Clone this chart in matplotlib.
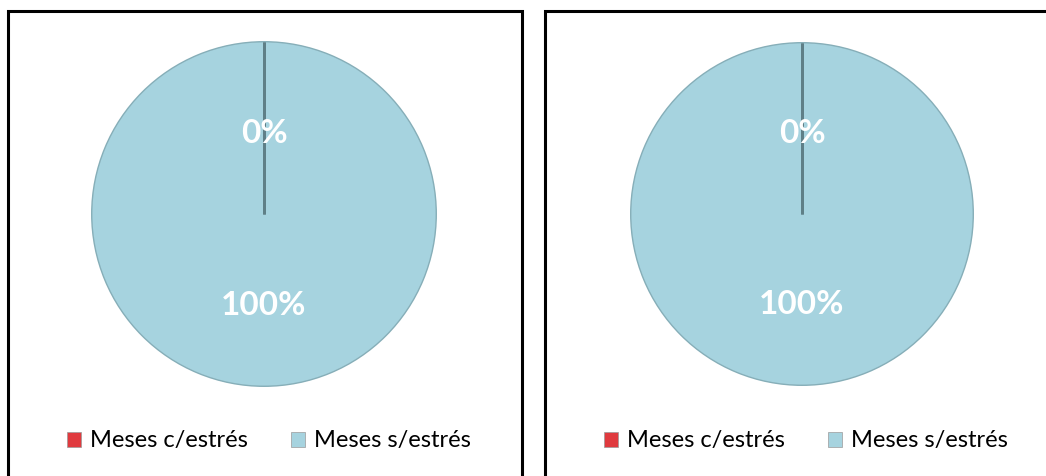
import numpy as np
import matplotlib.pyplot as plt
from matplotlib.patches import Rectangle, Patch

# data
categories = ["Meses c/estrés", "Meses s/estrés"]
left_values = [0, 100]
right_values = [0, 100]
colors = ["#e03a3e", "#a6d3df"]

W, H = 1046, 476
fig = plt.figure(figsize=(W / 100, H / 100), dpi=100)
fig.patch.set_facecolor("white")


def fx(px):
    return px / W


def fy(py):
    return 1 - py / H


# panel frames (right and bottom edges run off the picture)
fig.patches.append(Rectangle((fx(8), -0.1), fx(522 - 8), fy(11) + 0.1,
                             transform=fig.transFigure, fill=False,
                             edgecolor="black", linewidth=2.2))
fig.patches.append(Rectangle((fx(545), -0.1), 0.6, fy(11) + 0.1,
                             transform=fig.transFigure, fill=False,
                             edgecolor="black", linewidth=2.2))


def draw_pie(cx, cy, r, values):
    ax = fig.add_axes([fx(cx - r), fy(cy + r), fx(2 * r), 2 * r / H])
    wedges, texts, autotexts = ax.pie(
        values, colors=colors, startangle=90, counterclock=False,
        autopct=lambda p: f"{p:.0f}%", pctdistance=0.5,
        wedgeprops=dict(edgecolor="#86aeb8", linewidth=1.0),
        textprops=dict(color="white", fontsize=24, fontweight="bold",
                       family="Lato", zorder=4))
    for t in autotexts:
        x, y = t.get_position()
        t.set_position((x, y - 0.03))
    # boundary lines between slices (the empty slice shows as a single line)
    bounds = 90 - 360 * np.cumsum([0] + list(values[:-1])) / np.sum(values)
    for a in np.radians(bounds):
        ax.plot([0, np.cos(a)], [0, np.sin(a)], color="#5f7f87", lw=2.0,
                solid_capstyle="butt", zorder=3)
    ax.set_xlim(-1.01, 1.01)
    ax.set_ylim(-1.01, 1.01)
    ax.set_aspect("equal")
    return ax


draw_pie(264, 214, 174, left_values)
draw_pie(802, 214, 173, right_values)

handles = [Patch(facecolor=c, edgecolor="#9a9a9a", linewidth=0.5) for c in colors]
for cx in (269, 806):
    fig.legend(handles, categories, loc="center", bbox_to_anchor=(fx(cx), fy(441)),
               ncol=2, frameon=False, handlelength=0.6, handleheight=0.6,
               handletextpad=0.4, columnspacing=1.8,
               prop=dict(family="Lato", size=17))

fig.savefig("out.png", dpi=100, facecolor="white")
